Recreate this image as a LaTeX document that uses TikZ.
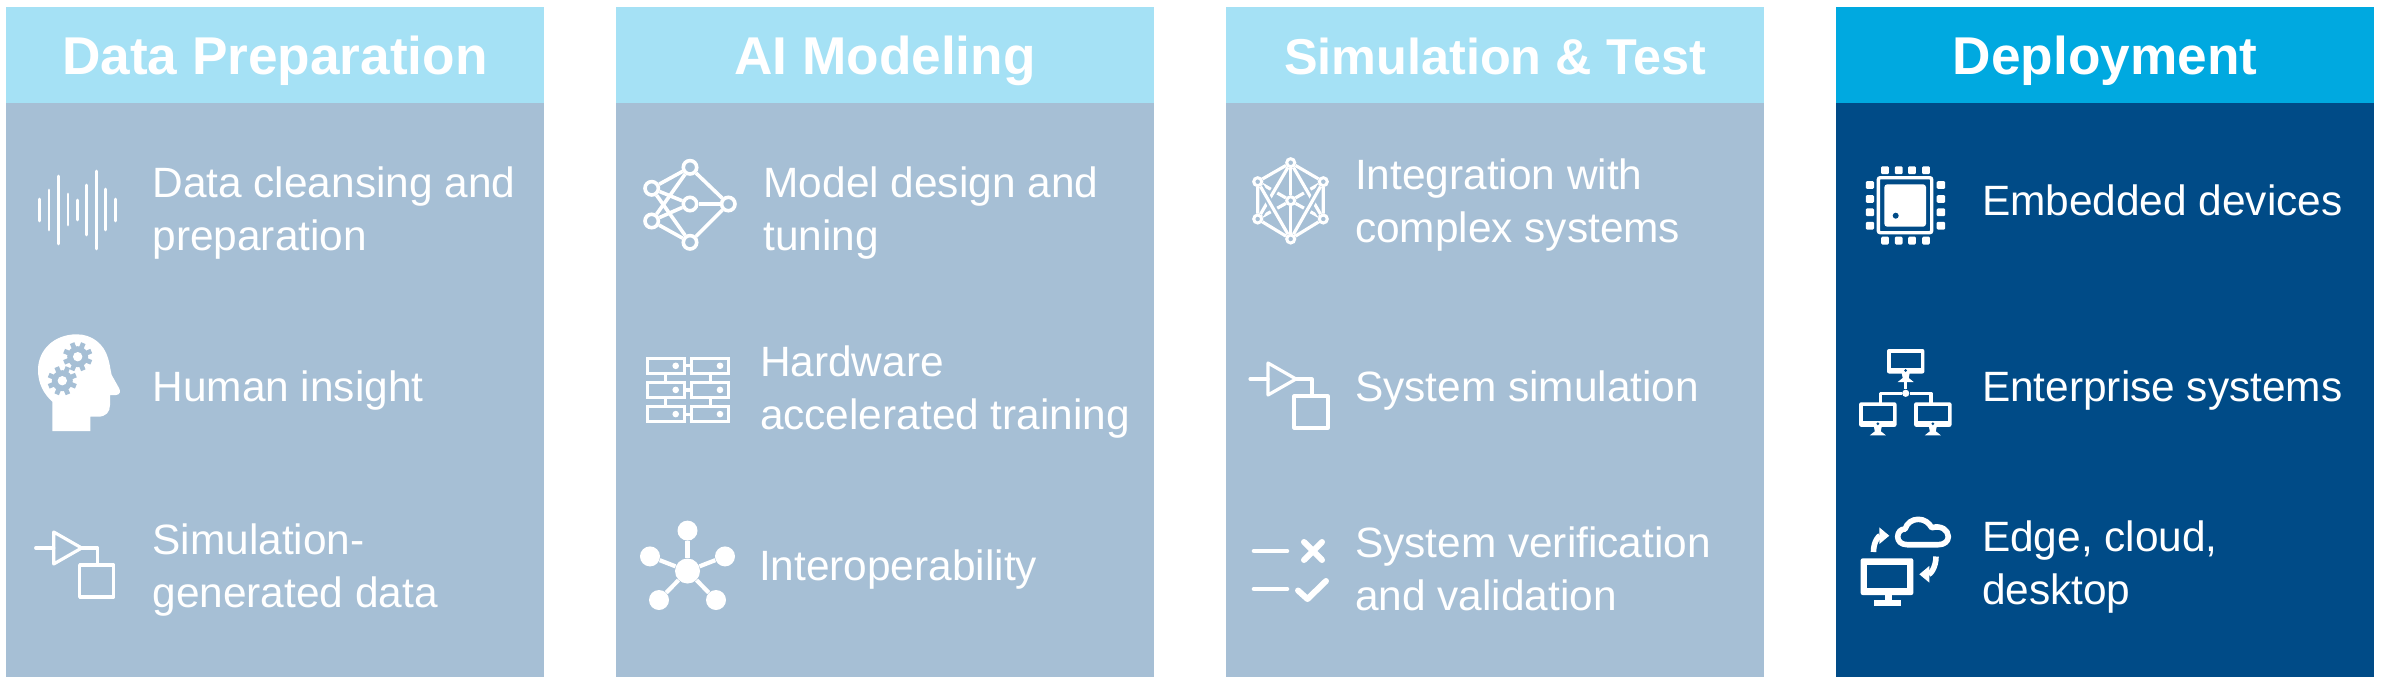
\documentclass[tikz,border=0pt]{standalone}
\usepackage{fontspec}
\setmainfont{Liberation Sans}
\usetikzlibrary{arrows.meta,calc,positioning,shapes}
\definecolor{softblue}{HTML}{A6BFD5}
\definecolor{softcyan}{HTML}{A5E1F5}
\definecolor{deepblue}{HTML}{004B87}
\definecolor{brightcyan}{HTML}{00A9E0}
\newdimen\hdim
\newdimen\wdim
\newdimen\odim
\hdim=48pt
\wdim=269pt
\odim=36pt
\tikzstyle{header}=[
  fill=softcyan,
  font={\fontsize{26.6}{30}\selectfont\bfseries},
  inner sep=0pt,
  minimum height=\hdim,
  minimum width=\wdim,
  outer sep=0pt,
  rectangle,
  text=white,
  text centered,
  text height=19pt,
  text depth=0pt,
]
\tikzstyle{body}=[
  fill=softblue,
  inner sep=0pt,
  minimum height=287pt,
  minimum width=\wdim,
  outer sep=0pt,
  rectangle,
]
\tikzstyle{item}=[
  align=left,
  anchor=base west,
  font={\fontsize{21.2}{26.5}\selectfont},
  inner sep=0pt,
  outer sep=0pt,
  text=white,
]
\tikzstyle{wire}=[
  draw=white,
  line width=1.6pt,
  line join=round,
]
\tikzstyle{netdot}=[
  circle,
  draw=white,
  inner sep=0pt,
  line width=1.8pt,
  minimum size=6.7pt,
]
\tikzstyle{meshdot}=[
  circle,
  draw=white,
  fill=softblue,
  inner sep=0pt,
  line width=1.5pt,
  minimum size=4pt,
]
\tikzstyle{weave}=[
  double=white,
  double distance=1.6pt,
  draw=softblue,
  line width=1pt,
]
\tikzstyle{hubdot}=[
  circle,
  fill=white,
  inner sep=0pt,
  minimum size=10pt,
]
\tikzstyle{rack}=[
  draw=white,
  inner sep=0pt,
  line width=1.5pt,
  minimum height=7.8pt,
  minimum width=18.5pt,
  rectangle,
]
\tikzstyle{curl}=[
  draw=white,
  line width=2.8pt,
  -{Triangle[length=5pt,width=8pt]},
]
\tikzset{
  node distance=\wdim+\odim,
  pics/simblock/.style={code={
    \draw [wire, line cap=round] (0,0) -- (18,0);
    \draw [wire] (18,-16) -- (46,0) -- (18,16) -- cycle;
    \draw [wire] (46,0) -- (62,0) -- (62,17);
    \draw [wire] (44,17) rectangle (78,49);
  }},
  pics/gearwheel/.style={code={
    \fill [softblue] (0,0) circle (10.5);
    \foreach \a in {0,45,...,315}
      \draw [softblue, line width=2.4pt] (\a+22.5:9) -- (\a+22.5:14.7);
    \fill [white] (0,0) circle (4.7);
  }},
  pics/screen/.style={code={
    \fill [white, rounded corners=1pt] (-18.7,0) rectangle (18.7,24.5);
    \fill [deepblue] (-15.2,3.5) rectangle (15.2,18.5);
    \fill [deepblue] (0,21.5) circle (1.5);
    \fill [white] (-4,24) -- (4,24) -- (3,29) -- (8,33) -- (-8,33) -- (-3,29) -- cycle;
  }},
}

\begin{document}
\begin{tikzpicture}[x=.5pt,y=-.5pt]
  \useasboundingbox (0,0) rectangle (2383,685);
  \node (prep) [header] at (275,55) {Data Preparation};
  \node (model) [header, right of=prep] {AI Modeling};
  \node (simtest) [header, right of=model, font={\fontsize{25.2}{30}\selectfont\bfseries}] {Simulation \& Test};
  \node (deploy) [header, right of=simtest, fill=brightcyan] {Deployment};
  \node (prepbody) [body, below=0pt of prep] {};
  \node (modelbody) [body, below=0pt of model] {};
  \node (simtestbody) [body, below=0pt of simtest] {};
  \node (deploybody) [body, below=0pt of deploy, fill=deepblue] {};

  % first column
  \node (cleansing) [item] at (152.5,250) {Data cleansing and\\preparation};
  \node (insight) [item] at (152.5,401.6) {Human insight};
  \node (generated) [item] at (152.5,607.5) {Simulation-\\generated data};
  \foreach \x/\a/\b in {39.3/199/221,49/190/230,58.2/176/244,67.9/194/225,77.1/200/220,86.8/185/235,96.4/171/249,105.7/189/230,115.4/199/221}
    \draw [wire, line width=1.4pt, line cap=round] (\x,\a) -- (\x,\b);
  \fill [white] (52.3,431) -- (90.3,431) -- (90.3,416.7) -- (98,416.7)
    .. controls (106,416.7) and (110,412) .. (110,405) -- (110,395) -- (116,395)
    .. controls (120,395) and (121,391) .. (119,388) -- (111.7,375)
    .. controls (110,368) and (110,364) .. (108,358)
    .. controls (104,344) and (92,334.3) .. (76.7,334.3)
    .. controls (54,334.3) and (38,350) .. (38,370)
    .. controls (38,384) and (44,394) .. (52.3,401.7) -- cycle;
  \pic at (77.7,356.7) {gearwheel};
  \pic at (62.3,380.7) {gearwheel};
  \pic at (35.7,548) {simblock};

  % second column
  \node (design) [item] at (763.6,250) {Model design and\\tuning};
  \node (hardware) [item] at (760,429) {Hardware\\accelerated training};
  \node (interop) [item] at (759,580) {Interoperability};
  \node (n1) [netdot] at (651.7,188.3) {};
  \node (n2) [netdot] at (651.7,221) {};
  \node (n3) [netdot] at (690,167.3) {};
  \node (n4) [netdot] at (690,204) {};
  \node (n5) [netdot] at (690,242.3) {};
  \node (n6) [netdot] at (728.3,204) {};
  \foreach \a in {n1,n2}
    \foreach \b in {n3,n4,n5}
      \draw [white, line width=1.8pt] (\a) -- (\b);
  \foreach \b in {n3,n4,n5}
    \draw [white, line width=1.8pt] (\b) -- (n6);
  \foreach \r/\y in {a/365.8,b/389.9,c/414.1} {
    \node (\r1) [rack] at (665.8,\y) {};
    \node (\r2) [rack] at (710.3,\y) {};
    \fill [white] (675.7,\y) circle (3.3);
    \fill [white] (720,\y) circle (3.3);
    \draw [wire] (\r1) -- (\r2);
  }
  \draw [wire] (a1) -- (b1);
  \draw [wire] (b1) -- (c1);
  \draw [wire] (a2) -- (b2);
  \draw [wire] (b2) -- (c2);
  \node (hub) [circle, fill=white, inner sep=0pt, minimum size=12.5pt] at (687.5,571) {};
  \foreach \n/\x/\y in {p1/687.5/530.6,p2/650/556.4,p3/725/556.4,p4/659/600,p5/716/600} {
    \node (\n) [hubdot] at (\x,\y) {};
    \draw [white, line width=2.1pt] (hub) -- (\n);
  }

  % third column
  \node (integration) [item] at (1355,242.5) {Integration with\\complex systems};
  \node (sysim) [item] at (1355,401.6) {System simulation};
  \node (verify) [item] at (1355,610) {System verification\\and validation};
  \node (m0) [meshdot] at (1290.7,200.7) {};
  \node (m1) [meshdot] at (1290.7,162.7) {};
  \node (m2) [meshdot] at (1257.7,181.7) {};
  \node (m3) [meshdot] at (1323.3,181.7) {};
  \node (m4) [meshdot] at (1257.7,219) {};
  \node (m5) [meshdot] at (1323.3,219) {};
  \node (m6) [meshdot] at (1290.7,239) {};
  \foreach \a in {m2,m3,m4,m5}
    \draw [wire] (m0) -- (\a);
  \draw [weave] (m1) -- (m4);
  \draw [weave] (m1) -- (m5);
  \draw [weave] (m2) -- (m6);
  \draw [weave] (m3) -- (m6);
  \draw [wire] (m1) -- (m2) -- (m4) -- (m6) -- (m5) -- (m3) -- (m1);
  \draw [wire] (m1) -- (m0) -- (m6);
  \pic at (1250,379) {simblock};
  \draw [white, line width=2.3pt, line cap=round] (1254,551) -- (1287,551);
  \draw [white, line width=2.3pt, line cap=round] (1254,589) -- (1287,589);
  \draw [white, line width=3pt, line cap=round] (1304,542) -- (1322,560);
  \draw [white, line width=3pt, line cap=round] (1304,560) -- (1322,542);
  \draw [white, line width=3pt, line cap=round, line join=round] (1298,590.5) -- (1307.5,599) -- (1326,581);

  % fourth column
  \node (embedded) [item] at (1982,215) {Embedded devices};
  \node (enterprise) [item] at (1982,401.6) {Enterprise systems};
  \node (edge) [item] at (1982,604) {Edge, cloud,\\desktop};
  \draw [white, line width=1.7pt, rounded corners=1pt] (1878.3,177.7) rectangle (1931.7,232.7);
  \fill [white, rounded corners=1.5pt] (1884.3,184.3) rectangle (1926,226.7);
  \fill [deepblue] (1895.7,215.7) circle (3);
  \foreach \x in {1885,1898.7,1912,1926} {
    \fill [white, rounded corners=.6pt] (\x-3.9,166.4) rectangle (\x+3.9,174.2);
    \fill [white, rounded corners=.6pt] (\x-3.9,236.7) rectangle (\x+3.9,244.5);
  }
  \foreach \y in {185,199,212.3,225.7} {
    \fill [white, rounded corners=.6pt] (1865.8,\y-3.9) rectangle (1874,\y+3.9);
    \fill [white, rounded corners=.6pt] (1936.7,\y-3.9) rectangle (1945.2,\y+3.9);
  }
  \node (lan) [circle, fill=white, inner sep=0pt, minimum size=3.6pt] at (1905.7,393.3) {};
  \coordinate (lantop) at (1905.7,380);
  \coordinate (tapl) at (1880.7,403);
  \coordinate (tapr) at (1931,403);
  \draw [wire] (lantop) -- (lan);
  \draw [wire] (lan) -| (tapl);
  \draw [wire] (lan) -| (tapr);
  \pic at (1905.7,349) {screen};
  \pic at (1877.8,402.3) {screen};
  \pic at (1932.8,402.3) {screen};
  \fill [white, rounded corners=1pt] (1860.7,558.3) rectangle (1913.3,595);
  \fill [deepblue] (1867.3,564.5) rectangle (1907.3,588.3);
  \fill [white] (1885,595) rectangle (1891.7,600);
  \fill [white] (1874,600) rectangle (1900.7,606);
  \draw [white, line width=2.8pt, line join=round] (1907.3,544.7)
    .. controls (1901,544.7) and (1897.7,541) .. (1897.7,536.7)
    .. controls (1897.7,532) and (1901,529) .. (1905,529)
    .. controls (1907,523) and (1912,519.3) .. (1918.3,519.3)
    .. controls (1924,519.3) and (1929,522.5) .. (1931.7,527.7)
    .. controls (1941,525) and (1948.3,530) .. (1948.3,536.7)
    .. controls (1948.3,541.5) and (1944,544.7) .. (1938.3,544.7) -- cycle;
  \coordinate (upfrom) at (1873.5,552);
  \coordinate (upto) at (1889.3,535.7);
  \coordinate (downfrom) at (1936,556.5);
  \coordinate (downto) at (1919.3,574.3);
  \draw [curl] (upfrom) .. controls (1873.5,541) and (1879,535.7) .. (upto);
  \draw [curl] (downfrom) .. controls (1936,568) and (1930,574.3) .. (downto);
\end{tikzpicture}
\end{document}
